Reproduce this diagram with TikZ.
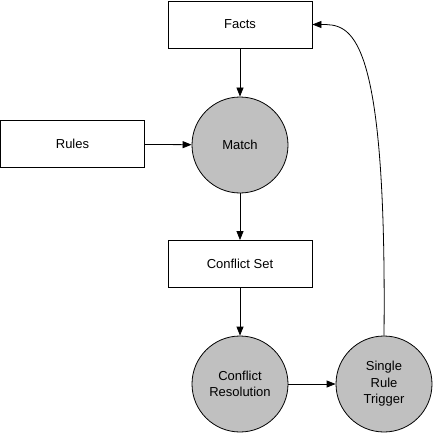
\documentclass[tikz,border=0pt]{standalone}
\usepackage{fontspec}
\setmainfont{Liberation Sans}
\usetikzlibrary{arrows.meta}
\definecolor{nodegray}{HTML}{C0C0C0}
\begin{document}
\begin{tikzpicture}[x=1pt,y=-1pt,
  font=\fontsize{13}{16.5}\selectfont,
  box/.style={draw=black, line width=0.8pt, fill=white, minimum width=144pt, minimum height=47pt, inner sep=0pt},
  proc/.style={circle, draw=black, line width=0.8pt, fill=nodegray, minimum size=96pt, inner sep=0pt, align=center},
  conn/.style={draw=black, line width=0.8pt, -{Triangle[length=9pt,width=7pt]}}]
\useasboundingbox (0,0) rectangle (433,433);
\node[box] (facts) at (240,24.5) {Facts};
\node[box] (rules) at (72.5,144) {Rules};
\node[proc] (match) at (240,145) {Match};
\node[box] (cset) at (240,264) {Conflict Set};
\node[proc] (cres) at (240,384) {Conflict\\Resolution};
\node[proc] (srt) at (384,384) {Single\\Rule\\Trigger};
\draw[conn] (facts) -- (match);
\draw[conn] (rules) -- (match);
\draw[conn] (match) -- (cset);
\draw[conn] (cset) -- (cres);
\draw[conn] (cres) -- (srt);
\draw[conn] (srt.north) .. controls (387,25) and (350,24.5) .. (facts.east);
\end{tikzpicture}
\end{document}
